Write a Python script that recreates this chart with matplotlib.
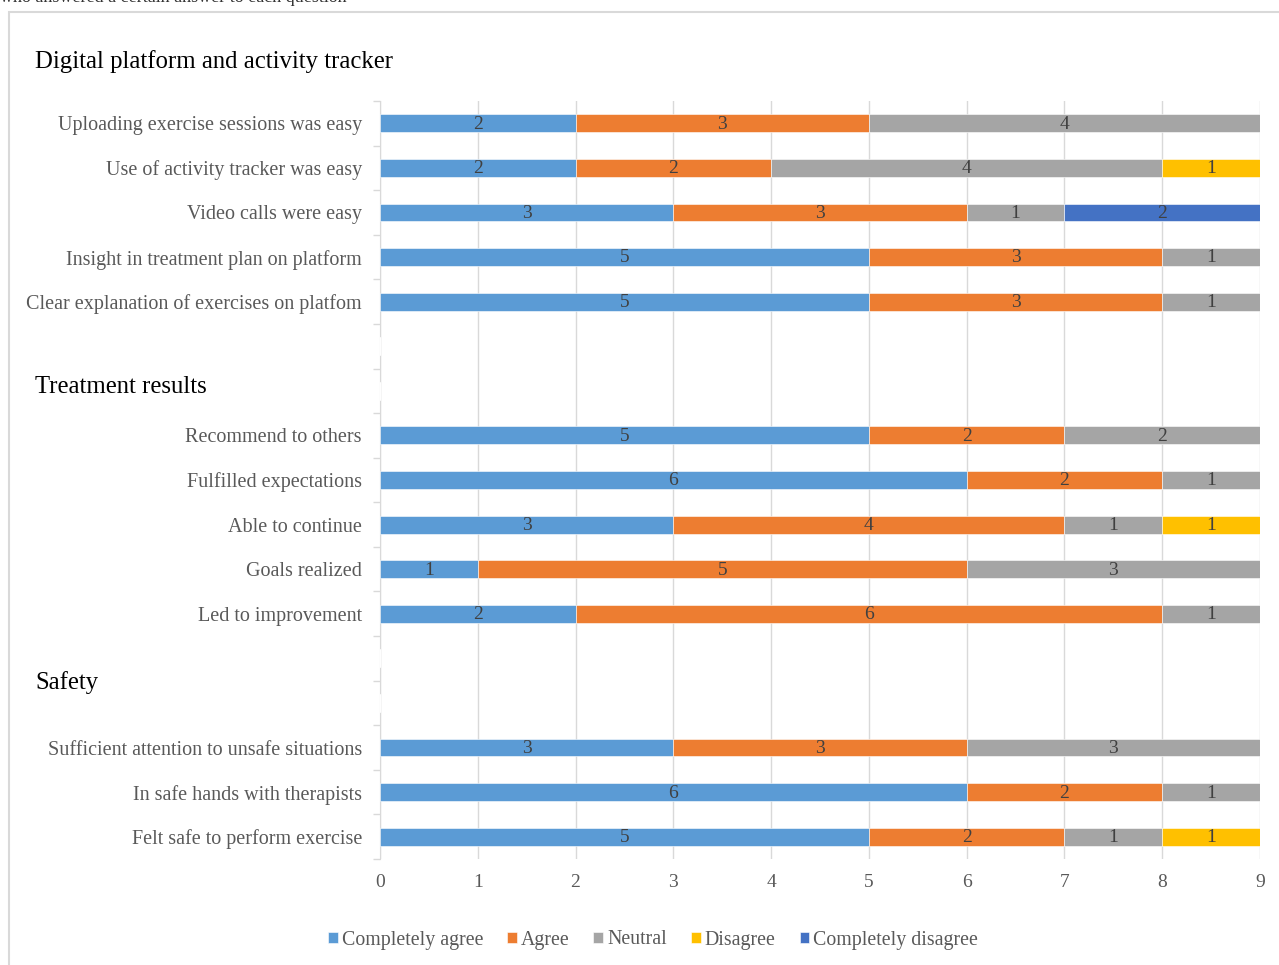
import matplotlib.pyplot as plt
from matplotlib.patches import Rectangle
from matplotlib.ticker import FixedLocator

plt.rcParams["font.family"] = ["Liberation Serif", "DejaVu Serif"]

# rows top to bottom, "" = empty spacer row (section heading area)
labels = [
    "Uploading exercise sessions was easy",
    "Use of activity tracker was easy",
    "Video calls were easy",
    "Insight in treatment plan on platform",
    "Clear explanation of exercises on platfom",
    "", "",
    "Recommend to others",
    "Fulfilled expectations",
    "Able to continue",
    "Goals realized",
    "Led to improvement",
    "", "",
    "Sufficient attention to unsafe situations",
    "In safe hands with therapists",
    "Felt safe to perform exercise",
]

completely_agree = [2, 2, 3, 5, 5, 0, 0, 5, 6, 3, 1, 2, 0, 0, 3, 6, 5]
agree = [3, 2, 3, 3, 3, 0, 0, 2, 2, 4, 5, 6, 0, 0, 3, 2, 2]
neutral = [4, 4, 1, 1, 1, 0, 0, 2, 1, 1, 3, 1, 0, 0, 3, 1, 1]
disagree = [0, 1, 0, 0, 0, 0, 0, 0, 0, 1, 0, 0, 0, 0, 0, 0, 1]
completely_disagree = [0, 0, 2, 0, 0, 0, 0, 0, 0, 0, 0, 0, 0, 0, 0, 0, 0]

series = [
    ("Completely agree", completely_agree, "#5B9BD5"),
    ("Agree", agree, "#ED7D31"),
    ("Neutral", neutral, "#A5A5A5"),
    ("Disagree", disagree, "#FFC000"),
    ("Completely disagree", completely_disagree, "#4472C4"),
]

sections = ["Digital platform and activity tracker", "Treatment results", "Safety"]

fig = plt.figure(figsize=(12.79, 9.65), dpi=100)
ax = fig.add_axes([380 / 1279, 1 - 859 / 965, 880 / 1279, 758 / 965])

n = len(labels)
y = list(range(n))
left = [0] * n
for name, vals, color in series:
    ax.barh(y, vals, left=left, height=0.4, color=color,
            edgecolor="white", linewidth=0.4, label=name, zorder=3)
    for yi, v, l in zip(y, vals, left):
        if v > 0:
            ax.text(l + v / 2, yi + 0.02, str(v), ha="center", va="center",
                    fontsize=14, color="#404040", zorder=4)
    left = [a + b for a, b in zip(left, vals)]

ax.set_xlim(0, 9)
ax.set_ylim(n - 0.5, -0.5)
ax.set_xticks(range(10))
ax.set_yticks(y)
ax.set_yticklabels(labels, fontsize=14.5, color="#595959")
ax.yaxis.set_minor_locator(FixedLocator([i - 0.5 for i in range(n + 1)]))
ax.tick_params(axis="y", which="major", length=0, pad=13)
ax.tick_params(axis="y", which="minor", length=5, color="#D9D9D9", width=1)
ax.tick_params(axis="x", length=0, labelsize=14, labelcolor="#595959", pad=11)
ax.grid(axis="x", color="#D9D9D9", lw=1, zorder=0)
for s in ["top", "right", "bottom"]:
    ax.spines[s].set_visible(False)
ax.spines["left"].set_color("#D9D9D9")

# section headings
fig.text(35 / 1279, 1 - 62 / 965, sections[0], fontsize=17.8, va="center", color="black")
fig.text(35 / 1279, 1 - 387 / 965, sections[1], fontsize=17.8, va="center", color="black")
fig.text(35 / 1279, 1 - 683 / 965, sections[2], fontsize=17.8, va="center", color="black")

leg = fig.legend(loc="center", bbox_to_anchor=(653 / 1279, 1 - 940 / 965), ncol=5,
                 frameon=False, fontsize=14.3, handlelength=0.5, handleheight=0.5,
                 handletextpad=0.2, columnspacing=1.2)
for t in leg.get_texts():
    t.set_color("#595959")

# frame around the chart
fig.patches.append(Rectangle((9 / 1279, -0.05), 1.1, 1 - 12 / 965 + 0.05,
                             transform=fig.transFigure, fill=False,
                             edgecolor="#D9D9D9", lw=1.5))
# cut-off caption above the chart
fig.text(0.0, 1.003, "who answered a certain answer to each question", fontsize=13,
         va="center", color="#333333")

fig.savefig("out.png", dpi=100)
